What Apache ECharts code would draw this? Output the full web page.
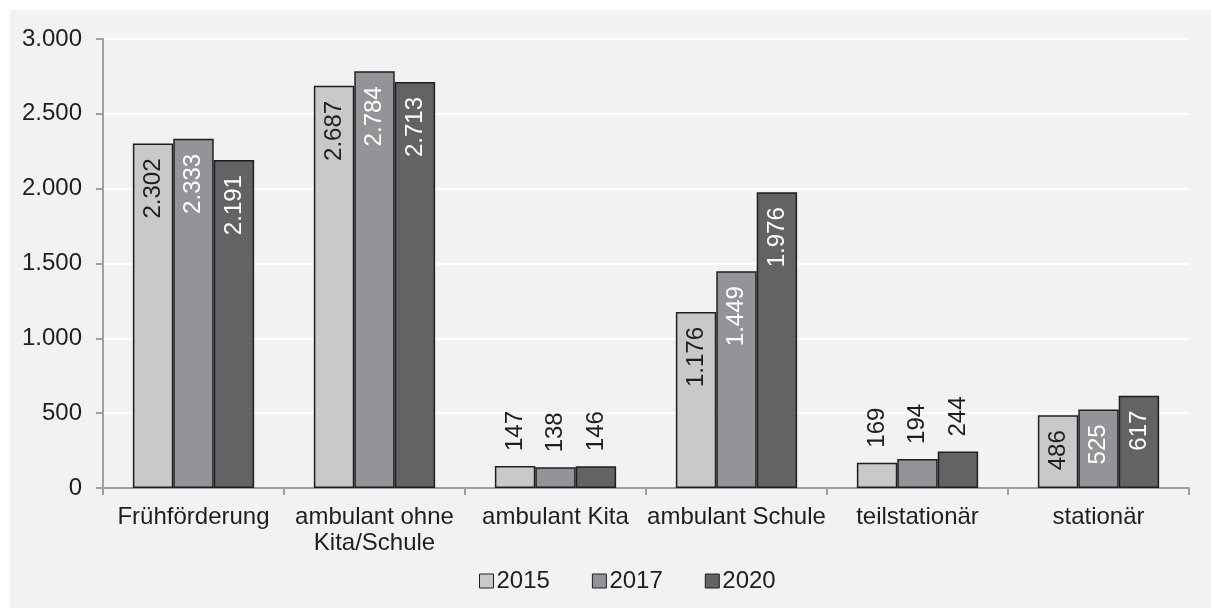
<!DOCTYPE html>
<html>
<head>
<meta charset="utf-8">
<script src="https://cdn.jsdelivr.net/npm/echarts@6/dist/echarts.min.js"></script>
<style>
html,body{margin:0;padding:0;background:#fff;}
#chart{width:1211px;height:608px;}
</style>
</head>
<body>
<div id="chart"></div>
<script>
const categories = ['Frühförderung', 'ambulant ohne\nKita/Schule', 'ambulant Kita', 'ambulant Schule', 'teilstationär', 'stationär'];
const years = ['2015', '2017', '2020'];
const values2015 = [2302, 2687, 147, 1176, 169, 486];
const values2017 = [2333, 2784, 138, 1449, 194, 525];
const values2020 = [2191, 2713, 146, 1976, 244, 617];
const yTicks = { min: 0, max: 3000, interval: 500 };

const colors = ['#c8c9cb', '#939497', '#636366'];
const insideLabelColors = ['#1e1e1e', '#ffffff', '#ffffff'];
const FONT = '"Liberation Sans", Arial, sans-serif';
const FS = 24;

function fmt(v) {
  return String(v).replace(/\B(?=(\d{3})+(?!\d))/g, '.');
}

function makeSeries(name, values, idx) {
  return {
    name: name,
    type: 'bar',
    barGap: '0%',
    barCategoryGap: '33%',
    itemStyle: { color: colors[idx], borderColor: '#1f1f1f', borderWidth: 1.5 },
    data: values.map(v => {
      const inside = v >= 300;
      return {
        value: v,
        label: inside ? {
          show: true, position: 'insideTop', distance: 15, rotate: 90,
          align: 'right', verticalAlign: 'middle',
          color: insideLabelColors[idx]
        } : {
          show: true, position: 'top', distance: 15, rotate: 90,
          align: 'left', verticalAlign: 'middle', color: '#1e1e1e'
        }
      };
    }),
    label: {
      show: true, fontFamily: FONT, fontSize: FS,
      formatter: p => fmt(p.value)
    }
  };
}

const chart = echarts.init(document.getElementById('chart'), null, { renderer: 'canvas' });
chart.setOption({
  animation: false,
  backgroundColor: 'transparent',
  textStyle: { fontFamily: FONT },
  graphic: [{
    type: 'rect', left: 10, top: 10, z: -10, silent: true,
    shape: { width: 1201, height: 598 },
    style: { fill: '#f1f2f4' }
  }],
  grid: { left: 103, right: 22, top: 39, bottom: 120, containLabel: false },
  legend: {
    data: years.map(y => ({ name: y, icon: 'rect' })),
    left: 474, top: 563,
    itemWidth: 14, itemHeight: 14, itemGap: 42,
    itemStyle: { borderColor: '#1f1f1f', borderWidth: 1 },
    textStyle: { fontFamily: FONT, fontSize: FS, color: '#1e1e1e', lineHeight: 26, padding: [0, 0, 0, -2] }
  },
  xAxis: {
    type: 'category',
    data: categories,
    axisLine: { lineStyle: { color: '#a0a0a0', width: 2 } },
    axisTick: { show: true, length: 7, alignWithLabel: false, lineStyle: { color: '#a0a0a0', width: 2 } },
    axisLabel: { interval: 0, margin: 16, fontFamily: FONT, fontSize: FS, color: '#1e1e1e', lineHeight: 26 },
    splitLine: { show: false }
  },
  yAxis: {
    type: 'value',
    min: yTicks.min, max: yTicks.max, interval: yTicks.interval,
    axisLine: { show: true, lineStyle: { color: '#a0a0a0', width: 2 } },
    axisTick: { show: true, length: 7, lineStyle: { color: '#a0a0a0', width: 2 } },
    axisLabel: { margin: 21, fontFamily: FONT, fontSize: FS, color: '#1e1e1e', formatter: v => fmt(v) },
    splitLine: { show: true, lineStyle: { color: '#ffffff', width: 2 } }
  },
  series: [
    makeSeries(years[0], values2015, 0),
    makeSeries(years[1], values2017, 1),
    makeSeries(years[2], values2020, 2)
  ]
});
</script>
</body>
</html>
